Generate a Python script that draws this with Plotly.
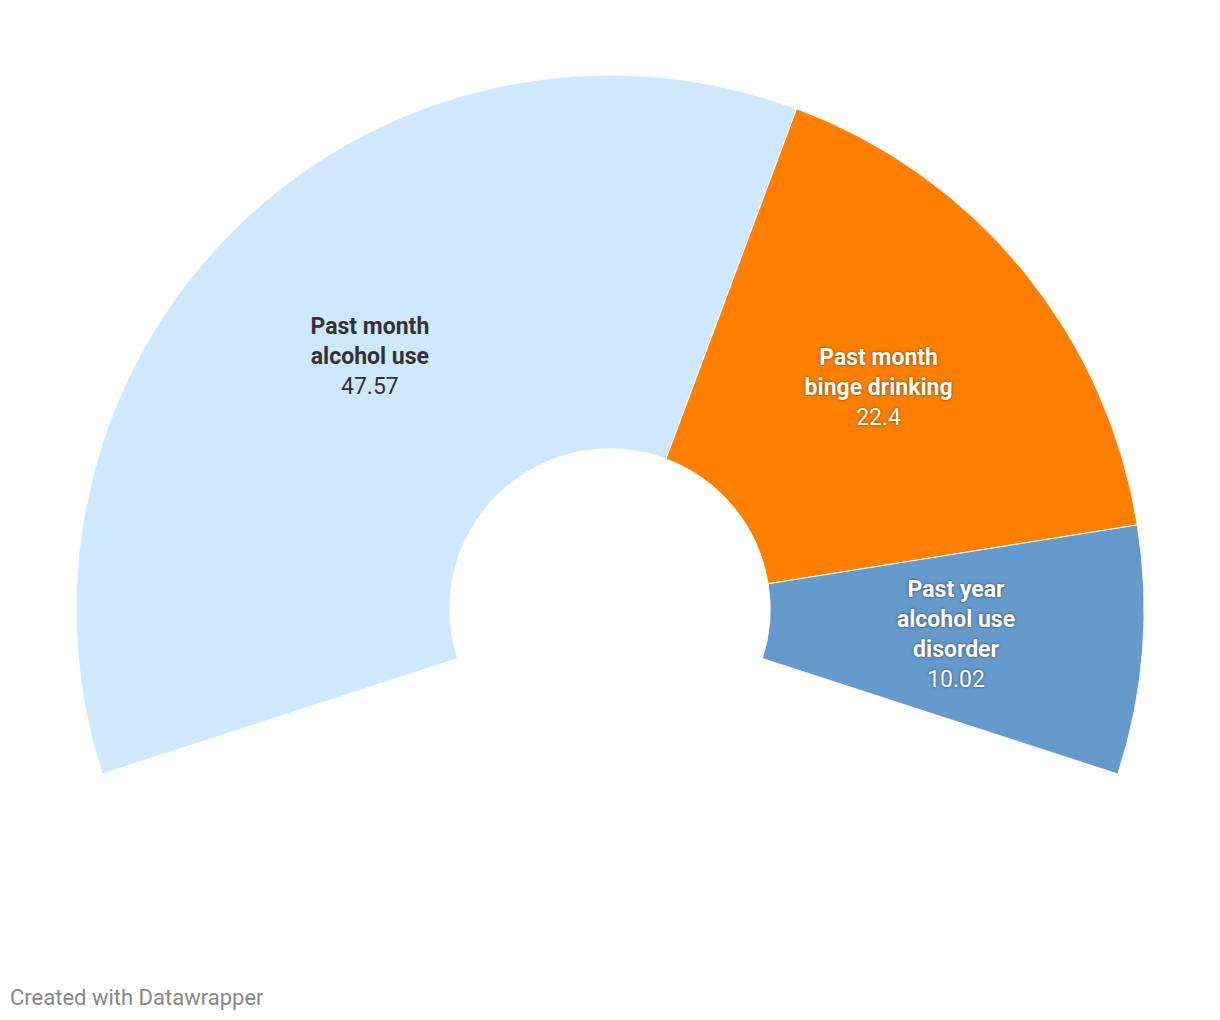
import plotly.graph_objects as go

categories = ["Past month<br>alcohol use", "Past month<br>binge drinking", "Past year<br>alcohol use<br>disorder"]
values = [47.57, 22.4, 10.02]
value_labels = ["47.57", "22.4", "10.02"]
colors = ["#CFE8FE", "#FF7F00", "#6699CC"]
text_colors = ["#333333", "#FFFFFF", "#FFFFFF"]

SPAN = 216.0  # degrees covered by the arc
total = sum(values)
scale = SPAN / total

widths, centers = [], []
acc = 0.0
for v in values:
    w = v * scale
    widths.append(w)
    centers.append(acc + w / 2)
    acc += w

OFF = 8  # page body margin offset

fig = go.Figure()
fig.add_trace(go.Barpolar(
    r=[1] * len(values),
    theta=centers,
    width=widths,
    base=0,
    marker=dict(color=colors, line=dict(color="white", width=1)),
    hoverinfo="skip",
    showlegend=False,
))

for cat, lab, c, tc in zip(categories, value_labels, centers, text_colors):
    shadow = "none" if tc != "#FFFFFF" else "0px 0px 3px rgba(0,0,0,0.55)"
    fig.add_trace(go.Scatterpolar(
        r=[0.5], theta=[c], mode="text",
        text=[f"<b>{cat}</b><br>{lab}"],
        textfont=dict(family="Roboto", size=23, color=tc, shadow=shadow),
        textposition="middle center",
        hoverinfo="skip", showlegend=False,
    ))

fig.update_layout(
    width=1220, height=1020,
    margin=dict(l=0, r=0, t=0, b=0),
    paper_bgcolor="white",
    plot_bgcolor="white",
    font=dict(family="Roboto"),
    polar=dict(
        domain=dict(x=[(76 - OFF) / 1220, (1144 - OFF) / 1220],
                    y=[1 - (774 - OFF) / 1020, 1 - (75 - OFF) / 1020]),
        sector=[-18, 198],
        hole=0.3,
        bgcolor="white",
        radialaxis=dict(range=[0, 1], visible=False, showgrid=False),
        angularaxis=dict(direction="clockwise", rotation=198, visible=False,
                         showgrid=False, thetaunit="degrees"),
    ),
    annotations=[dict(
        text="Created with Datawrapper", x=0, y=1 - (997 - OFF) / 1020,
        xref="paper", yref="paper", xanchor="left", yanchor="middle",
        showarrow=False, font=dict(family="Roboto", size=22, color="#888888"),
    )],
)

fig.write_html("out.html")
